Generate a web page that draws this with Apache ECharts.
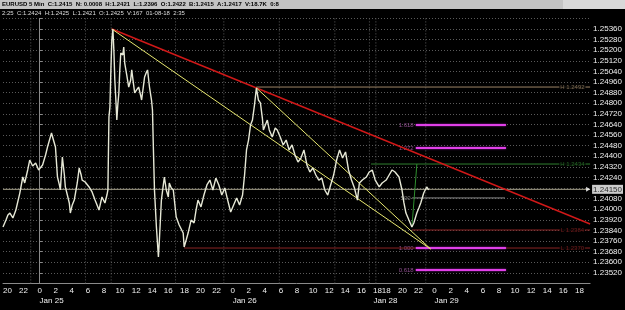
<!DOCTYPE html>
<html><head><meta charset="utf-8">
<script src="https://cdn.jsdelivr.net/npm/echarts@6/dist/echarts.min.js"></script>
<style>html,body{margin:0;padding:0;background:#000;}#c{width:625px;height:310px;}</style>
</head><body><div id="c"></div>
<script>
// ---- data ----
const priceHours = [-4.55,-4.18,-3.94,-3.69,-3.32,-2.95,-2.46,-2.09,-1.85,-1.48,-1.23,-0.86,-0.49,-0.12,0.37,0.74,0.98,1.23,1.48,1.72,1.97,2.22,2.46,2.58,2.83,3.08,3.20,3.45,3.69,3.82,4.06,4.31,4.68,4.92,5.17,5.29,5.66,6.15,6.52,6.89,7.14,7.38,7.75,8.12,8.37,8.49,8.62,8.74,
8.86,8.98,9.11,9.23,9.35,9.48,9.60,9.72,9.85,9.97,10.09,10.34,10.46,10.58,10.83,11.08,11.32,11.45,11.69,11.82,12.06,12.31,12.55,12.68,12.92,13.05,13.29,13.42,13.66,13.91,14.03,14.15,
14.28,14.52,14.77,14.89,15.14,15.38,15.51,15.75,16.00,16.12,16.37,16.62,16.98,17.35,17.85,17.97,18.22,18.46,18.83,19.20,19.45,19.69,20.06,
20.43,20.80,21.17,21.54,21.91,22.28,22.65,23.02,23.38,23.75,24.12,24.49,24.86,25.23,25.48,25.72,25.97,26.22,26.46,26.71,26.95,
27.20,27.45,27.69,27.82,28.06,28.31,28.55,28.92,29.29,29.54,29.91,30.28,30.65,31.02,31.38,31.75,32.12,32.49,32.86,33.23,33.60,33.97,34.34,34.71,35.08,35.45,35.82,36.18,36.55,36.92,37.29,37.66,38.03,38.40,38.77,39.14,39.51,39.75,
40.12,40.62,40.98,41.35,41.72,42.22,42.58,43.08,43.45,43.82,44.18,44.68,45.05,45.29,45.54,45.91,46.28,46.52,46.89,47.14,47.38,47.75,48.12,48.37];
const priceValues = [1.23866,1.23918,1.23956,1.23971,1.23934,1.23994,1.24122,1.24243,1.24198,1.24296,1.24371,1.24326,1.24349,1.24296,1.24334,1.24409,1.24469,1.24522,1.24575,1.24522,1.24469,1.24243,1.24183,1.24145,1.24394,1.24258,1.24168,1.24107,1.24047,1.23971,1.24032,1.24069,1.24198,1.24311,1.24258,1.24220,1.24205,1.24168,1.24130,1.24069,1.24032,1.23994,1.24092,1.24047,1.24107,1.24145,1.24696,1.24771,
1.25051,1.25277,1.25360,1.25202,1.24975,1.24824,1.24673,1.24786,1.24877,1.25051,1.25179,1.25164,1.25224,1.25103,1.25013,1.24922,1.24975,1.25051,1.24937,1.24877,1.24900,1.24922,1.24862,1.24824,1.24937,1.24998,1.25035,1.25051,1.24922,1.24824,1.24749,1.24447,
1.24145,1.23866,1.23639,1.23768,1.24069,1.24183,1.24243,1.24145,1.24092,1.24198,1.24160,1.24145,1.23941,1.23881,1.23820,1.23715,1.23768,1.23820,1.23918,1.23896,1.23994,1.24069,1.24017,
1.24107,1.24183,1.24220,1.24145,1.24235,1.24183,1.24107,1.24160,1.24069,1.23979,1.24032,1.24085,1.24032,1.24107,1.24258,1.24447,1.24522,1.24635,1.24673,1.24786,1.24915,
1.24824,1.24802,1.24688,1.24598,1.24635,1.24673,1.24598,1.24545,1.24613,1.24598,1.24545,1.24485,1.24522,1.24447,1.24485,1.24409,1.24356,1.24386,1.24447,1.24334,1.24281,1.24311,1.24258,1.24220,1.24235,1.24145,1.24107,1.24183,1.24258,1.24371,1.24447,1.24386,1.24432,1.24296,1.24220,1.24160,1.24069,1.24198,
1.24220,1.24243,1.24281,1.24296,1.24220,1.24168,1.24198,1.24220,1.24258,1.24296,1.24281,1.24243,1.24145,1.24047,1.23971,1.23918,1.23866,1.23896,1.23971,1.24009,1.24047,1.24122,1.24168,1.24145];

const tickHours = [-4,-2,0,2,4,6,8,10,12,14,16,18,20,22,24,26,28,30,32,34,36,38,40,42,43.1,45.1,47.1,49.1,51.1,53.1,55.1,57.1,59.1,61.1,63.1,65.1,67.1];
const tickLabels = ['20','22','0','2','4','6','8','10','12','14','16','18','20','22','0','2','4','6','8','10','12','14','16','18','18','20','22','0','2','4','6','8','10','12','14','16','18'];
const dateHours = [0,24,41.5,49.1];
const dateLabels = ['Jan 25','Jan 26','Jan 28','Jan 29'];
const vGridHours = [-1.1,5.7,8.9,16.9,22.9,29.8,36.7,41.0,41.8,48.0];

const currentPrice = 1.2415;
const redTrend = [[8.98,1.25360],[68.43,1.23888]];
const yellowTrendA = [[8.98,1.25360],[48.6,1.23700]];
const yellowTrendB = [[26.95,1.24915],[48.6,1.23700]];
const levelValues = [1.24922,1.24341,1.23843,1.23707];
const levelStart = [26.95,41.2,46.3,17.97];
const levelLabels = ['H 1.2492','H 1.2434','L 1.2384','L 1.2370'];
const fibValues = [1.24635,1.24462,1.23707,1.23541];
const fibLabels = ['1.618','1.272','1.000','0.618'];
const fibRange = [46.77,57.97];
const midValue = 1.24085;
const midRange = [46.3,57.85];
const midLabel = '500';
const greenLeg = [[46.28,1.23866],[46.9,1.24341]];

// ---- chart ----
const X_MIN = -4.55, X_MAX = 68.43, Y_MIN = 1.2344, Y_MAX = 1.2544;
const chart = echarts.init(document.getElementById('c'), null, {renderer:'canvas'});
const levelColors = ['#9c8466','#2f7f2f','#8a2323','#8a2323'];
const FONT = 'Liberation Sans';
const series = [];

vGridHours.forEach(h=>{
  series.push({type:'line', data:[[h,Y_MIN],[h,Y_MAX]], symbol:'none', silent:true,
    lineStyle:{color:'#5a5a5a', type:[1,2], width:1}, z:1});
});

series.push({type:'line', data:[[X_MIN,currentPrice],[X_MAX,currentPrice]], symbol:'none', silent:true,
  lineStyle:{color:'#a8a48c', width:1}, z:2});
series.push({type:'scatter', data:[[X_MAX,currentPrice]], symbol:'triangle', symbolRotate:-90, symbolSize:[5,4], symbolOffset:[-2,0], clip:false, silent:true,
  itemStyle:{color:'#fff'}, z:10,
  label:{show:true, position:'right', distance:2, formatter: currentPrice.toFixed(5), color:'#000', backgroundColor:'#fff', padding:[1,1,0,1], fontSize:8, fontFamily:FONT}});

levelValues.forEach((v,i)=>{
  series.push({type:'line', data:[[levelStart[i],v],[X_MAX,v]], symbol:'none', silent:true,
    lineStyle:{color:levelColors[i], width:1}, z:3});
  series.push({type:'scatter', data:[[X_MAX-2.2,v]], symbolSize:0, silent:true, z:4,
    label:{show:true, position:'inside', formatter:levelLabels[i], color:levelColors[i], fontSize:6, fontFamily:FONT, backgroundColor:'#000', padding:[0,1]}});
});

series.push({type:'line', data:[[midRange[0],midValue],[midRange[1],midValue]], symbol:'none', silent:true, lineStyle:{color:'#8c8c8c', width:1}, z:3});
series.push({type:'scatter', data:[[midRange[0]-0.8,midValue]], symbolSize:0, silent:true,
  label:{show:true, position:'inside', formatter:midLabel, color:'#9a9a9a', fontSize:6, fontFamily:FONT}});

series.push({type:'line', data:greenLeg, symbol:'none', silent:true, lineStyle:{color:'#2f8f2f', width:1}, z:4});

fibValues.forEach((v,i)=>{
  series.push({type:'line', data:[[fibRange[0],v],[fibRange[1],v]], symbol:'none', silent:true,
    lineStyle:{color:'#e040e8', width:2, shadowColor:'#a020b0', shadowBlur:2}, z:5});
  series.push({type:'scatter', data:[[fibRange[0]-1.2,v]], symbolSize:0, silent:true,
    label:{show:true, position:'inside', formatter:fibLabels[i], color:'#b060b0', fontSize:6, fontFamily:FONT}});
});

series.push({type:'line', data:redTrend, symbol:'none', silent:true, lineStyle:{color:'#d01818', width:1.5}, z:6});
series.push({type:'line', data:yellowTrendA, symbol:'none', silent:true, lineStyle:{color:'#e8e870', width:1}, z:6});
series.push({type:'line', data:yellowTrendB, symbol:'none', silent:true, lineStyle:{color:'#e8e870', width:1}, z:6});

series.push({type:'line', name:'EURUSD', data: priceHours.map((h,i)=>[h,priceValues[i]]), symbol:'none', silent:true,
  lineStyle:{color:'#e6e8d6', width:1.4}, z:7});

chart.setOption({
  backgroundColor:'#000',
  animation:false,
  graphic:[
    {type:'rect', shape:{x:0,y:0,width:563,height:9}, style:{fill:'#c4c4c4'}},
    {type:'rect', shape:{x:563,y:0,width:62,height:9}, style:{fill:'#d8d8d8'}},
    {type:'text', left:2, top:1, style:{text:'EURUSD 5 Min  C:1.2415  N: 0.0008  H:1.2421  L:1.2396  O:1.2422  B:1.2415  A:1.2417  V:18.7K  0:8', fill:'#000', font:'bold 6px "Liberation Sans"'}},
    {type:'text', left:2, top:10, style:{text:'2:25  C:1.2424  H:1.2425  L:1.2421  O:1.2425  V:167  01-08-18  2:35', fill:'#ddd', font:'6px "Liberation Sans"'}}
  ],
  grid:{left:0, right:32, top:18.4, bottom:26.6, containLabel:false},
  xAxis:[{
    type:'value', min:X_MIN, max:X_MAX,
    axisLine:{show:true, lineStyle:{color:'#8a8a8a'}},
    axisTick:{show:false},
    splitLine:{show:false},
    axisLabel:{customValues:tickHours, color:'#f0f0f0', fontSize:8, fontFamily:FONT, margin:3,
      formatter:(v)=>{const i=tickHours.findIndex(t=>Math.abs(t-v)<1e-6); return i>=0?tickLabels[i]:'';}}
  },{
    type:'value', min:X_MIN, max:X_MAX, position:'bottom', offset:10,
    axisLine:{show:false}, axisTick:{show:false}, splitLine:{show:false},
    axisLabel:{customValues:dateHours, color:'#f0f0f0', fontSize:8, fontFamily:FONT, margin:3, align:'left',
      formatter:(v)=>{const i=dateHours.findIndex(t=>Math.abs(t-v)<1e-6); return i>=0?dateLabels[i]:'';}}
  }],
  yAxis:{
    type:'value', position:'right', min:Y_MIN, max:Y_MAX, interval:0.0008,
    axisLine:{show:true, lineStyle:{color:'#8a8a8a'}},
    axisTick:{show:true, length:3, lineStyle:{color:'#8a8a8a'}},
    splitLine:{show:true, lineStyle:{color:'#5a5a5a', type:[1,2]}},
    axisLabel:{color:'#f0f0f0', fontSize:8, fontFamily:FONT, margin:3,
      formatter:(v)=>{ if (v<1.2351 || v>1.2540) return ''; if (Math.abs(v-1.2416)<1e-7) return ''; return v.toFixed(5);} }
  },
  series: series
});
</script></body></html>
